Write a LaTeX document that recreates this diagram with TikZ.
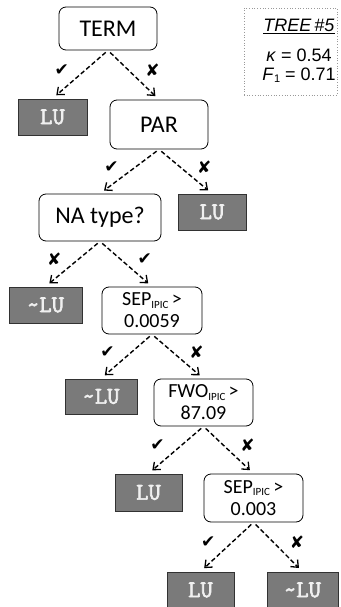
\documentclass[tikz,border=0pt]{standalone}
\usepackage{fontspec}
\setmainfont{Carlito}
\newfontfamily\arialfont{Liberation Sans}
\newfontfamily\symfont{DejaVu Sans}
\newfontfamily\leaffont{Latin Modern Mono}[FakeBold=2.5]
\usetikzlibrary{arrows.meta}
\newcommand{\chk}{{\symfont\fontsize{17}{17}\selectfont ✔}}
\newcommand{\crs}{{\symfont\fontsize{17}{17}\selectfont ✘}}
\newcommand{\ipic}{\raisebox{-2.5pt}{\fontsize{11}{11}\selectfont IPIC}}
\definecolor{leafgray}{RGB}{122,122,122}
\definecolor{leafedge}{RGB}{50,50,50}
\definecolor{leaftext}{RGB}{240,240,240}
\tikzset{
  dec/.style={draw=black, line width=0.8pt, rounded corners=7pt, fill=white,
    inner sep=0pt, align=center, font=\fontsize{24}{24}\selectfont},
  decs/.style={dec, font=\fontsize{20}{22}\selectfont},
  leaf/.style={draw=leafedge, line width=0.9pt, fill=leafgray, text=leaftext,
    inner sep=0pt, font=\leaffont\bfseries\fontsize{24}{24}\selectfont},
  arr/.style={-{Straight Barb[length=6pt,width=10pt,line width=1.3pt]},
    dash pattern=on 4.5pt off 2.6pt, line width=1.4pt,
    shorten <=3pt, shorten >=5pt},
  lm/.style={pos=0.4, xshift=-24pt},
  rm/.style={pos=0.4, xshift=24pt},
  treetext/.style={font=\arialfont\fontsize{18}{18}\selectfont, anchor=base, inner sep=0pt}
}
\begin{document}
\begin{tikzpicture}[x=1pt,y=-1pt]
\useasboundingbox (0,0) rectangle (340,607);
\clip (0,0) rectangle (340,607);

% decision nodes
\node[dec, minimum width=98pt, minimum height=43pt] (term) at (108,28.5) {TERM};
\node[dec, minimum width=98pt, minimum height=49pt] (par) at (159,124.5) {PAR};
\node[dec, minimum width=122pt, minimum height=47pt] (na) at (100,217.5) {NA type?};
\node[decs, minimum width=100pt, minimum height=47pt] (sepa) at (152,310.5) {SEP\ipic\,{>}\\0.0059};
\node[decs, minimum width=99pt, minimum height=47pt] (fwo) at (203.5,402.5) {FWO\ipic\,{>}\\87.09};
\node[decs, minimum width=99pt, minimum height=48pt] (sepb) at (253.5,498) {SEP\ipic\,{>}\\0.003};

% leaves
\node[leaf, minimum width=69pt, minimum height=36pt] (lua) at (52.5,117) {LU};
\node[leaf, minimum width=68pt, minimum height=36pt] (lub) at (212,212) {LU};
\node[leaf, minimum width=73pt, minimum height=36pt] (nlua) at (45.5,305) {\char`\~LU};
\node[leaf, minimum width=72pt, minimum height=35pt] (nlub) at (101,396.5) {\char`\~LU};
\node[leaf, minimum width=67pt, minimum height=37pt] (luc) at (148.5,492.5) {LU};
\node[leaf, minimum width=67pt, minimum height=36pt] (lud) at (200.5,590) {LU};
\node[leaf, minimum width=71pt, minimum height=36pt] (nluc) at (302.5,590) {\char`\~LU};

% arrows
\draw[arr] (term.south) -- node[lm]{\chk} (lua.north);
\draw[arr] (term.south) -- node[rm]{\crs} (par.north);
\draw[arr] (par.south) -- node[lm]{\chk} (na.north);
\draw[arr] (par.south) -- node[rm]{\crs} (lub.north);
\draw[arr] (na.south) -- node[lm]{\crs} (nlua.north);
\draw[arr] (na.south) -- node[rm]{\chk} (sepa.north);
\draw[arr] (sepa.south) -- node[lm]{\chk} (nlub.north);
\draw[arr] (sepa.south) -- node[rm]{\crs} (fwo.north);
\draw[arr] (fwo.south) -- node[lm]{\chk} (luc.north);
\draw[arr] (fwo.south) -- node[rm]{\crs} (sepb.north);
\draw[arr] (sepb.south) -- node[lm]{\chk} (lud.north);
\draw[arr] (sepb.south) -- node[rm]{\crs} (nluc.north);

% tree info box
\node[draw=black!40, dotted, line width=0.7pt, minimum width=93pt, minimum height=87pt, inner sep=0pt] (tree) at (290.5,51.5) {};
\node[treetext] (tname) at (299,31.5) {\itshape\underline{TREE\,\#5}};
\node[treetext] (kappa) at (299,61.5) {\textit{κ} = 0.54};
\node[treetext] (fone) at (299,80.5) {\textit{F}\raisebox{-2.5pt}{\fontsize{11}{11}\selectfont 1} = 0.71};
\end{tikzpicture}
\end{document}
